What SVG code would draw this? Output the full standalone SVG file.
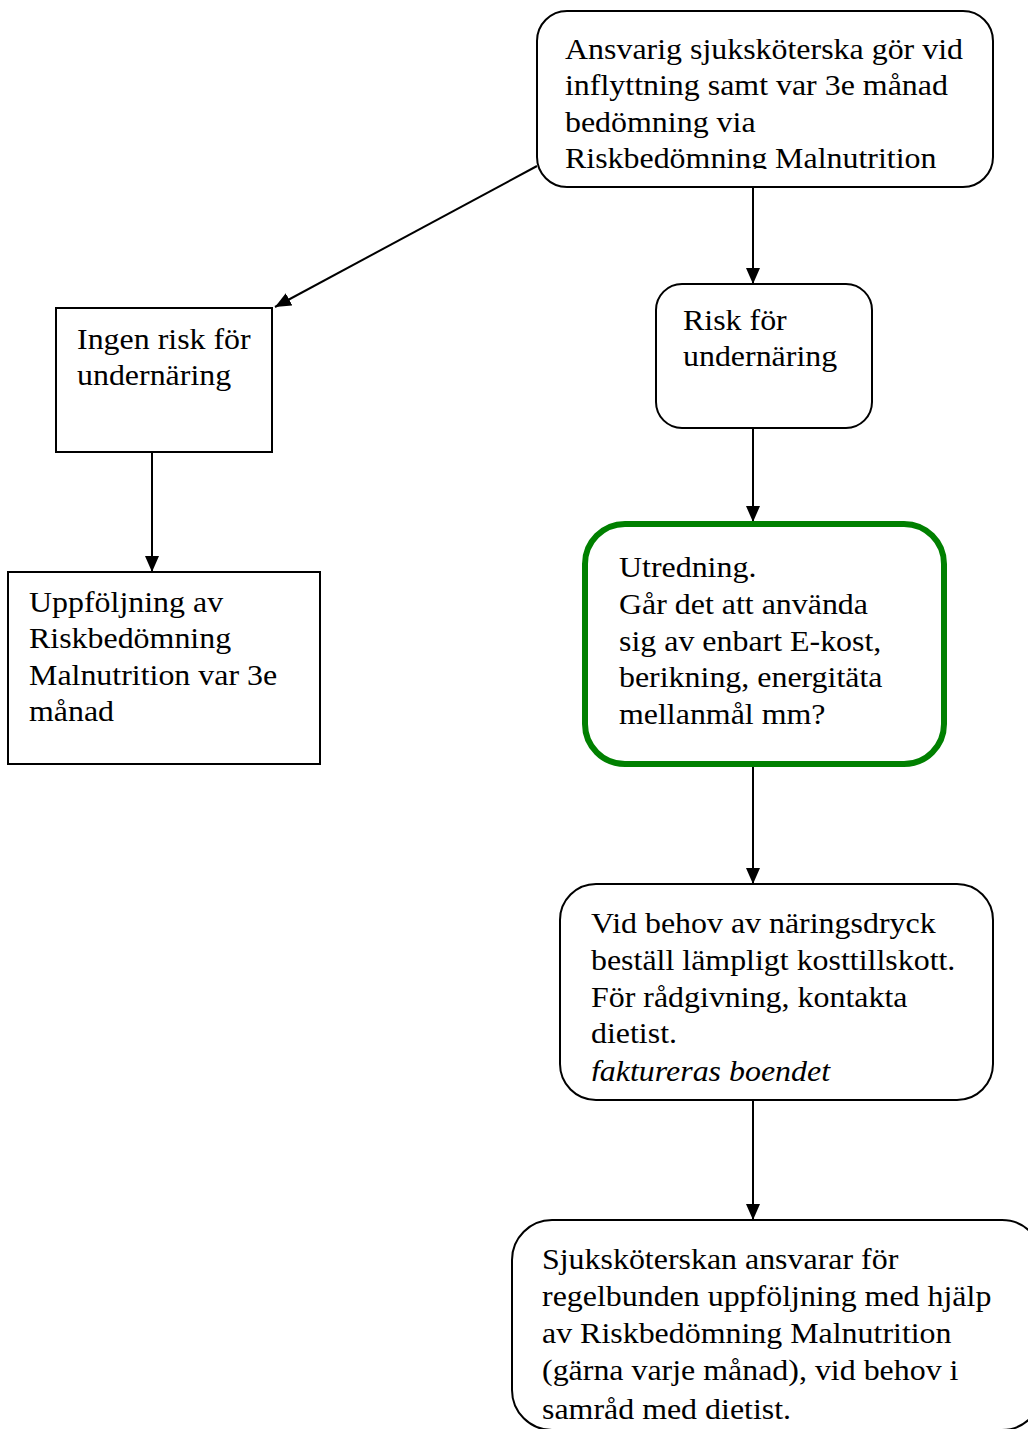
<svg xmlns="http://www.w3.org/2000/svg" width="1028" height="1429" viewBox="0 0 1028 1429">
<style>
.box{fill:#fff;stroke:#000;stroke-width:2}
.green{fill:#fff;stroke:#008000;stroke-width:6}
.t{font-family:"Liberation Serif","Times New Roman",serif;font-size:30px;fill:#000}
.i{font-style:italic}
.c{stroke:#000;stroke-width:2;fill:none;marker-end:url(#ah)}
</style>
<defs>
<marker id="ah" viewBox="0 0 16 14" refX="16" refY="7" markerWidth="16" markerHeight="14" markerUnits="userSpaceOnUse" orient="auto">
<path d="M0,0 L16,7 L0,14 Z" fill="#000"/>
</marker>
<clipPath id="c1"><rect x="537" y="11" width="456" height="158"/></clipPath>
<clipPath id="c5"><rect x="560" y="884" width="433" height="197"/></clipPath>
<clipPath id="c6"><rect x="512" y="1220" width="516" height="199"/></clipPath>
</defs>
<g id="connectors">
<line class="c" x1="537" y1="166" x2="275" y2="307"/>
<line class="c" x1="152" y1="452" x2="152" y2="572"/>
<line class="c" x1="753" y1="187" x2="753" y2="284"/>
<line class="c" x1="753" y1="428" x2="753" y2="522"/>
<line class="c" x1="753" y1="767" x2="753" y2="884"/>
<line class="c" x1="753" y1="1100" x2="753" y2="1220"/>
</g>
<g id="n1">
<rect class="box" x="537" y="11" width="456" height="176" rx="30"/>
<g clip-path="url(#c1)">
<g transform="translate(565,0) scale(1.064,1)">
<text class="t" x="0" y="59">Ansvarig sjuksköterska gör vid</text>
<text class="t" x="0" y="95.5">inflyttning samt var 3e månad</text>
<text class="t" x="0" y="132">bedömning via</text>
<text class="t" x="0" y="168.5">Riskbedömning Malnutrition</text>
</g>
</g>
</g>
<g id="n2">
<rect class="box" x="56" y="308" width="216" height="144"/>
<g transform="translate(77,0) scale(1.064,1)">
<text class="t" x="0" y="349">Ingen risk för</text>
<text class="t" x="0" y="385.5">undernäring</text>
</g>
</g>
<g id="n3">
<rect class="box" x="8" y="572" width="312" height="192"/>
<g transform="translate(29,0) scale(1.064,1)">
<text class="t" x="0" y="612">Uppföljning av</text>
<text class="t" x="0" y="648.5">Riskbedömning</text>
<text class="t" x="0" y="685">Malnutrition var 3e</text>
<text class="t" x="0" y="721.5">månad</text>
</g>
</g>
<g id="n4">
<rect class="box" x="656" y="284" width="216" height="144" rx="26"/>
<g transform="translate(683,0) scale(1.064,1)">
<text class="t" x="0" y="330">Risk för</text>
<text class="t" x="0" y="366.5">undernäring</text>
</g>
</g>
<g id="n5">
<rect class="green" x="585" y="524" width="359" height="240" rx="40"/>
<g transform="translate(619,0) scale(1.064,1)">
<text class="t" x="0" y="577">Utredning.</text>
<text class="t" x="0" y="614">Går det att använda</text>
<text class="t" x="0" y="651">sig av enbart E-kost,</text>
<text class="t" x="0" y="687">berikning, energitäta</text>
<text class="t" x="0" y="724">mellanmål mm?</text>
</g>
</g>
<g id="n6">
<rect class="box" x="560" y="884" width="433" height="216" rx="36"/>
<g clip-path="url(#c5)">
<g transform="translate(591,0) scale(1.064,1)">
<text class="t" x="0" y="933">Vid behov av näringsdryck</text>
<text class="t" x="0" y="970">beställ lämpligt kosttillskott.</text>
<text class="t" x="0" y="1007">För rådgivning, kontakta</text>
<text class="t" x="0" y="1043">dietist.</text>
<text class="t i" x="0" y="1081">faktureras boendet</text>
</g>
</g>
</g>
<g id="n7">
<rect class="box" x="512" y="1220" width="530" height="210" rx="40"/>
<g clip-path="url(#c6)">
<g transform="translate(542,0) scale(1.064,1)">
<text class="t" x="0" y="1269">Sjuksköterskan ansvarar för</text>
<text class="t" x="0" y="1306">regelbunden uppföljning med hjälp</text>
<text class="t" x="0" y="1343">av Riskbedömning Malnutrition</text>
<text class="t" x="0" y="1380">(gärna varje månad), vid behov i</text>
<text class="t" x="0" y="1419">samråd med dietist.</text>
</g>
</g>
</g>
</svg>
